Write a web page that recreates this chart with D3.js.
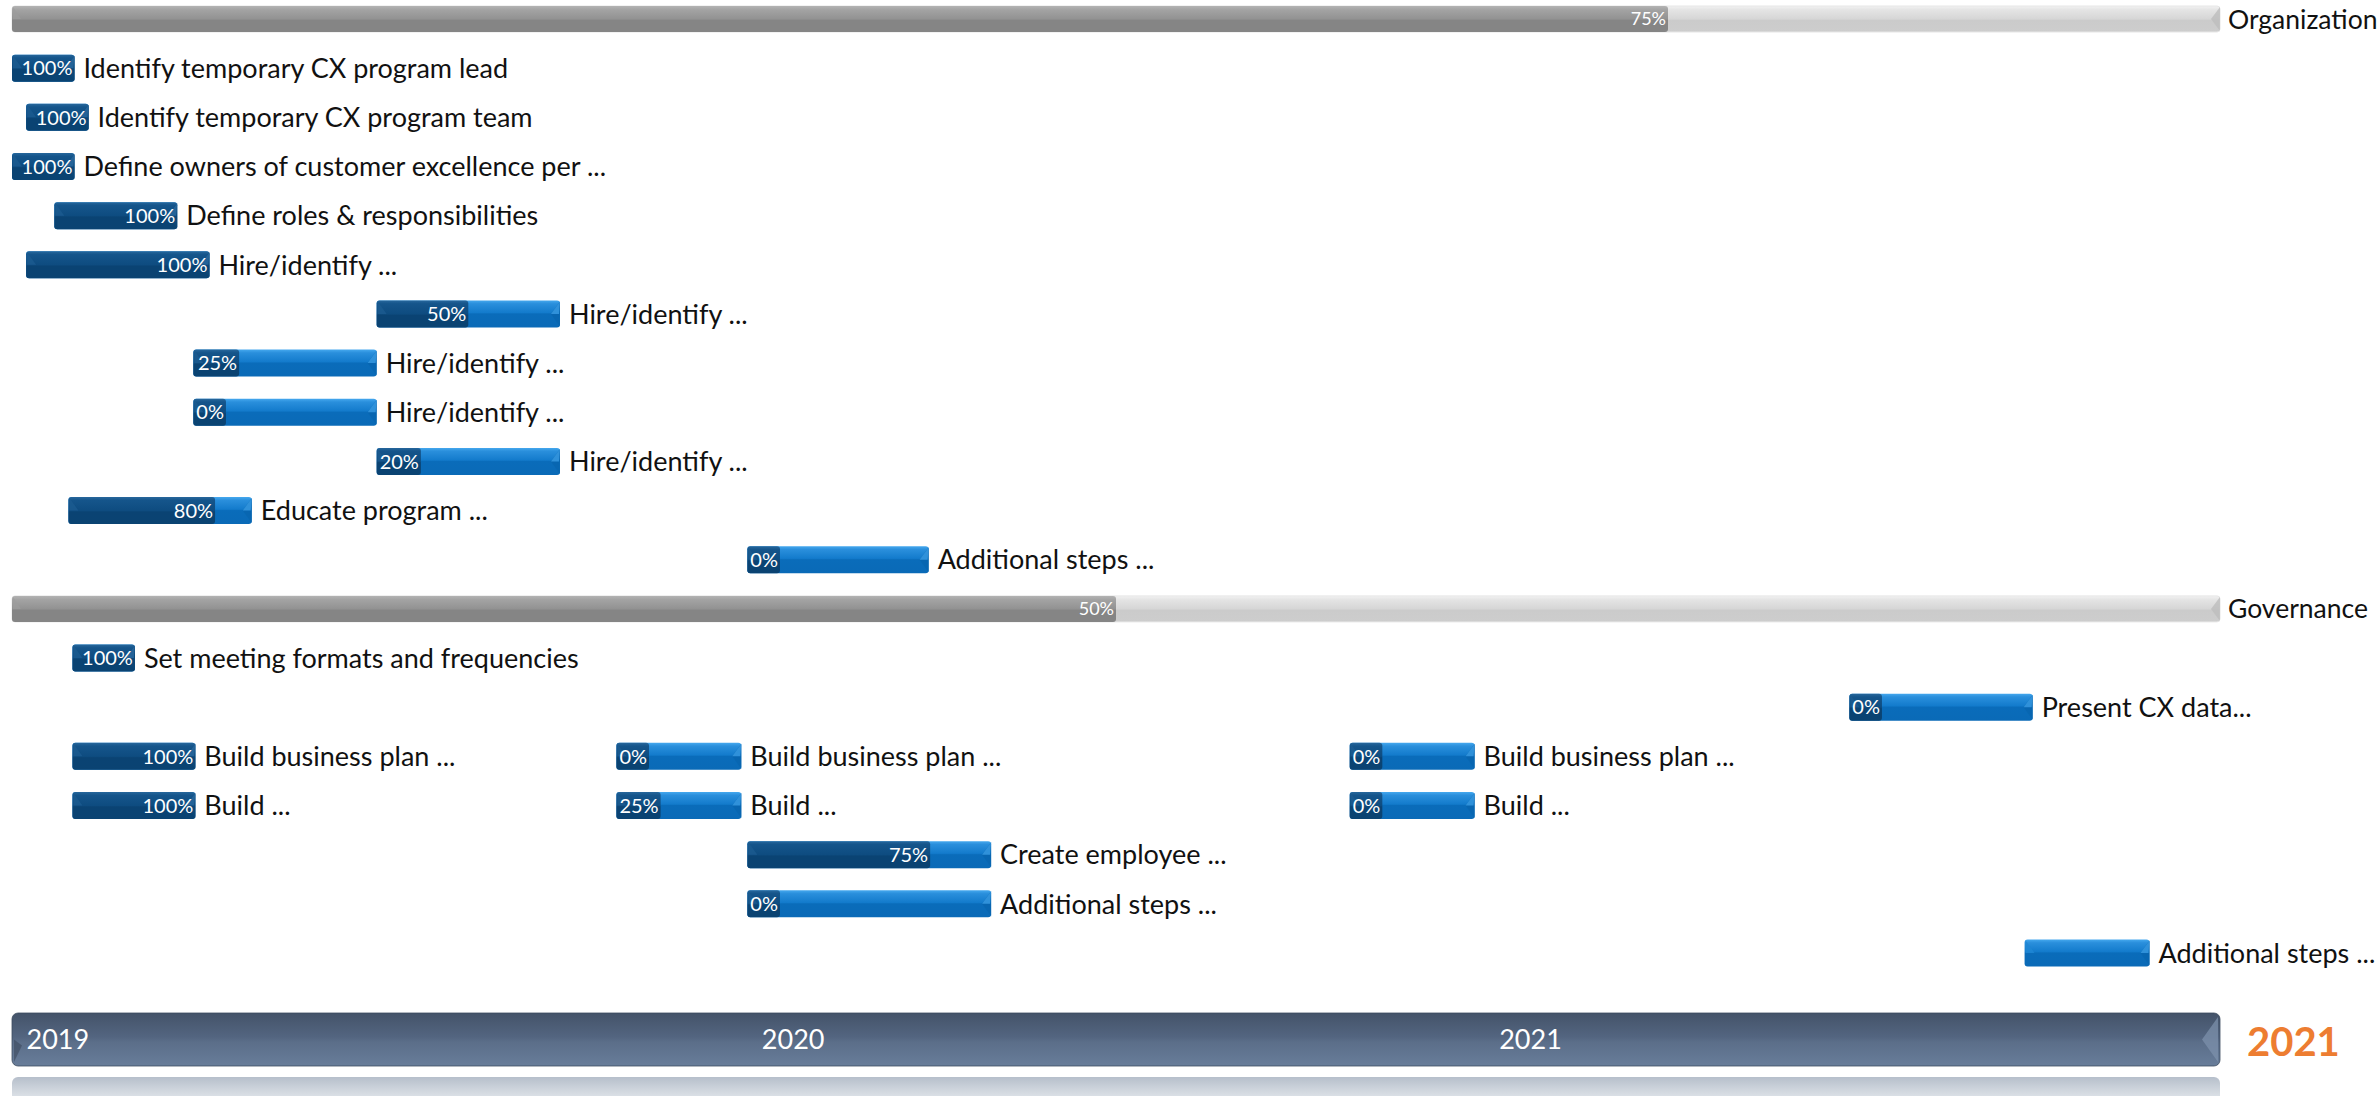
<!DOCTYPE html>
<html>
<head>
<meta charset="utf-8">
<script src="https://cdn.jsdelivr.net/npm/d3@7"></script>
<style>
  html, body { margin: 0; padding: 0; background: #ffffff; }
  svg { display: block; }
  text { font-family: Lato, "Open Sans", sans-serif; }
</style>
</head>
<body>
<svg id="chart" width="2379" height="1096"></svg>
<script>
// ---------------- DATA ----------------
const rowSlots = d3.range(20); // 20 swimlane rows (0 = Organization summary, 12 = Governance summary)

const summaryNames    = ["Organization", "Governance"];
const summaryRows     = [0, 12];
const summaryProgress = [75, 50];

const taskLabels = [
  "Identify temporary CX program lead",
  "Identify temporary CX program team",
  "Define owners of customer excellence per ...",
  "Define roles & responsibilities",
  "Hire/identify ...",
  "Hire/identify ...",
  "Hire/identify ...",
  "Hire/identify ...",
  "Hire/identify ...",
  "Educate program ...",
  "Additional steps ...",
  "Set meeting formats and frequencies",
  "Present CX data...",
  "Build business plan ...",
  "Build business plan ...",
  "Build business plan ...",
  "Build ...",
  "Build ...",
  "Build ...",
  "Create employee ...",
  "Additional steps ...",
  "Additional steps ..."
];
const taskRows = [1, 2, 3, 4, 5, 6, 7, 8, 9, 10, 11, 13, 14, 15, 15, 15, 16, 16, 16, 17, 18, 19];
const taskStarts = [
  "2019-01-01", "2019-01-08", "2019-01-01", "2019-01-22", "2019-01-08",
  "2019-07-01", "2019-04-01", "2019-04-01", "2019-07-01", "2019-01-29",
  "2020-01-01",
  "2019-01-31", "2021-07-01",
  "2019-01-31", "2019-10-28", "2020-10-26",
  "2019-01-31", "2019-10-28", "2020-10-26",
  "2020-01-01", "2020-01-01", "2021-09-26"
];
const taskEnds = [
  "2019-02-01", "2019-02-08", "2019-02-01", "2019-03-24", "2019-04-09",
  "2019-09-30", "2019-07-01", "2019-07-01", "2019-09-30", "2019-04-30",
  "2020-03-31",
  "2019-03-03", "2021-09-30",
  "2019-04-02", "2019-12-29", "2020-12-27",
  "2019-04-02", "2019-12-29", "2020-12-27",
  "2020-05-01", "2020-05-01", "2021-11-27"
];
const taskProgress = [100, 100, 100, 100, 100, 50, 25, 0, 20, 80, 0,
                      100, 0, 100, 0, 0, 100, 25, 0, 75, 0, null];

const timeDomain = ["2019-01-01", "2022-01-01"];
const endYearLabel = "2021";

// ---------------- SETUP ----------------
const parse = d3.timeParse("%Y-%m-%d");
const svg = d3.select("#chart");
const defs = svg.append("defs");

const x = d3.scaleTime().domain(timeDomain.map(parse)).range([12, 2220]);
const y = d3.scalePoint().domain(rowSlots).range([19, 953]);

const BAR_H = 27, SUM_H = 26;

function vgrad(id, stops) {
  const g = defs.append("linearGradient").attr("id", id)
    .attr("x1", 0).attr("y1", 0).attr("x2", 0).attr("y2", 1);
  stops.forEach(s => g.append("stop").attr("offset", s[0]).attr("stop-color", s[1]));
}
vgrad("gLight", [[0, "#45a8ee"], [0.12, "#2a8fdc"], [0.45, "#137bcc"], [0.5, "#0a6cba"], [1, "#0a6ab7"]]);
vgrad("gDark",  [[0, "#27679c"], [0.12, "#15558b"], [0.5, "#0e4c80"], [0.55, "#0a4373"], [1, "#0a4372"]]);
vgrad("gSumDark",  [[0, "#b3b3b3"], [0.15, "#a3a3a3"], [0.5, "#929292"], [0.55, "#858585"], [1, "#858585"]]);
vgrad("gSumLight", [[0, "#f2f2f2"], [0.15, "#e4e4e4"], [0.5, "#d6d6d6"], [0.55, "#cbcbcb"], [1, "#cdcdcd"]]);
vgrad("gTime", [[0, "#445369"], [0.45, "#536580"], [0.55, "#5b6e89"], [1, "#687d9a"]]);
vgrad("gRefl", [[0, "#b6bfcb"], [0.5, "#d3d9e0"], [1, "#eef1f4"]]);

// ---------------- SUMMARY BARS ----------------
const sumData = summaryNames.map((n, i) => ({ name: n, row: summaryRows[i], pct: summaryProgress[i] }));
const sumG = svg.append("g").selectAll("g").data(sumData).join("g");
const [x0s, x1s] = x.range();
sumG.append("rect")
  .attr("x", x0s).attr("y", d => y(d.row) - SUM_H / 2)
  .attr("width", x1s - x0s).attr("height", SUM_H)
  .attr("rx", 3).attr("fill", "url(#gSumLight)")
  .attr("stroke", "#e6e6e6").attr("stroke-width", 1);
sumG.append("rect")
  .attr("x", x0s).attr("y", d => y(d.row) - SUM_H / 2)
  .attr("width", d => (x1s - x0s) * d.pct / 100).attr("height", SUM_H)
  .attr("rx", 3).attr("fill", "url(#gSumDark)");
// right-end bevel
sumG.append("path")
  .attr("d", d => {
    const yc = y(d.row), t = yc - SUM_H / 2, b = yc + SUM_H / 2;
    return `M${x1s},${t + 1} L${x1s - 9},${yc} L${x1s},${b - 1} Z`;
  })
  .attr("fill", "#bdbdbd").attr("opacity", 0.8);
// left-end bevel
sumG.append("path")
  .attr("d", d => {
    const yc = y(d.row), t = yc - SUM_H / 2;
    return `M${x0s + 1},${t + 1} L${x0s + 9},${yc} L${x0s + 1},${yc} Z`;
  })
  .attr("fill", "#9c9c9c").attr("opacity", 0.7);
sumG.append("text")
  .attr("x", d => x0s + (x1s - x0s) * d.pct / 100 - 2)
  .attr("y", d => y(d.row)).attr("dy", "0.36em")
  .attr("text-anchor", "end").attr("fill", "#ffffff")
  .attr("font-size", 18).text(d => d.pct + "%");
sumG.append("text")
  .attr("x", x1s + 8).attr("y", d => y(d.row)).attr("dy", "0.36em")
  .attr("fill", "#111111").attr("font-size", 26.5).text(d => d.name);

// ---------------- TASK BARS ----------------
const tasks = taskLabels.map((l, i) => ({
  label: l, row: taskRows[i],
  x0: x(parse(taskStarts[i])), x1: x(parse(taskEnds[i])), pct: taskProgress[i]
}));
const tG = svg.append("g").selectAll("g").data(tasks).join("g");
tG.append("rect")
  .attr("x", d => d.x0).attr("y", d => y(d.row) - BAR_H / 2)
  .attr("width", d => d.x1 - d.x0).attr("height", BAR_H)
  .attr("rx", 3).attr("fill", "url(#gLight)");

// measure pct labels to size the dark progress part
const pctText = tG.filter(d => d.pct !== null).append("text")
  .attr("y", d => y(d.row)).attr("dy", "0.36em")
  .attr("fill", "#ffffff").attr("font-size", 20)
  .text(d => d.pct + "%");
pctText.each(function (d) { d.lw = this.getComputedTextLength(); });
tG.each(function (d) {
  d.dw = d.pct === null ? 0 : Math.min(d.x1 - d.x0, Math.max((d.x1 - d.x0) * d.pct / 100, d.lw + 5));
});
tG.filter(d => d.pct !== null).insert("rect", "text")
  .attr("x", d => d.x0).attr("y", d => y(d.row) - BAR_H / 2)
  .attr("width", d => d.dw).attr("height", BAR_H)
  .attr("rx", 3).attr("fill", "url(#gDark)");
// right chevron bevel
tG.insert("path", "text")
  .attr("d", d => {
    const yc = y(d.row), t = yc - BAR_H / 2 + 1, b = yc + BAR_H / 2 - 1;
    return `M${d.x1},${t} L${d.x1 - 9},${yc} L${d.x1},${b} Z`;
  })
  .attr("fill", d => d.dw >= d.x1 - d.x0 - 1 ? "#0c4778" : "#0866b0").attr("opacity", 0.9);
tG.insert("path", "text")
  .attr("d", d => {
    const yc = y(d.row), t = yc - BAR_H / 2 + 1;
    return `M${d.x1 - 9},${yc} L${d.x1},${t} L${d.x1 - 1},${yc} Z`;
  })
  .attr("fill", d => d.dw >= d.x1 - d.x0 - 1 ? "#2a6aa0" : "#3a9be4").attr("opacity", 0.8);
// left bevel
tG.insert("path", "text")
  .attr("d", d => {
    const yc = y(d.row), t = yc - BAR_H / 2 + 1;
    return `M${d.x0 + 1},${t} L${d.x0 + 10},${yc} L${d.x0 + 1},${yc} Z`;
  })
  .attr("fill", d => d.pct === null ? "#1f86d4" : "#1b5a8f").attr("opacity", 0.85);
pctText
  .attr("x", d => d.x0 + d.dw - 2)
  .attr("text-anchor", "end")
  .raise();
tG.append("text")
  .attr("x", d => d.x1 + 9).attr("y", d => y(d.row)).attr("dy", "0.36em")
  .attr("fill", "#111111").attr("font-size", 27)
  .text(d => d.label);

// ---------------- TIME BAND ----------------
const bandTop = 1013, bandH = 53;
const band = svg.append("g");
band.append("rect")
  .attr("x", x0s).attr("y", bandTop + bandH + 11)
  .attr("width", x1s - x0s).attr("height", 30)
  .attr("rx", 6).attr("fill", "url(#gRefl)");
band.append("rect")
  .attr("x", x0s).attr("y", bandTop)
  .attr("width", x1s - x0s).attr("height", bandH)
  .attr("rx", 6).attr("fill", "url(#gTime)")
  .attr("stroke", "#3e4c60").attr("stroke-width", 0.8);
band.append("path")
  .attr("d", `M${x1s - 2},${bandTop + 4} L${x1s - 18},${bandTop + bandH / 2} L${x1s - 2},${bandTop + bandH - 4} Z`)
  .attr("fill", "#7f93ae").attr("opacity", 0.7);
band.append("path")
  .attr("d", `M${x0s + 2},${bandTop + bandH - 4} L${x0s + 10},${bandTop + bandH / 2 + 6} L${x0s + 2},${bandTop + bandH / 2} Z`)
  .attr("fill", "#3c4a5e").attr("opacity", 0.6);

const years = x.ticks(d3.timeYear.every(1)).filter(d => d < x.domain()[1]);
const axis = d3.axisBottom(x).tickValues(years).tickSize(0).tickFormat(d3.timeFormat("%Y"));
const axG = svg.append("g").attr("transform", `translate(0,${bandTop + bandH / 2})`).call(axis);
axG.select(".domain").remove();
axG.selectAll("text")
  .attr("y", 0).attr("dy", "0.36em")
  .attr("dx", 14)
  .attr("text-anchor", "start")
  .attr("fill", "#ffffff")
  .attr("font-family", "Lato, sans-serif")
  .attr("font-size", 27);

svg.append("text")
  .attr("x", x1s + 27).attr("y", bandTop + bandH / 2 + 2).attr("dy", "0.36em")
  .attr("fill", "#ed7d31").attr("font-size", 40).attr("font-weight", "bold")
  .text(endYearLabel);
</script>
</body>
</html>
